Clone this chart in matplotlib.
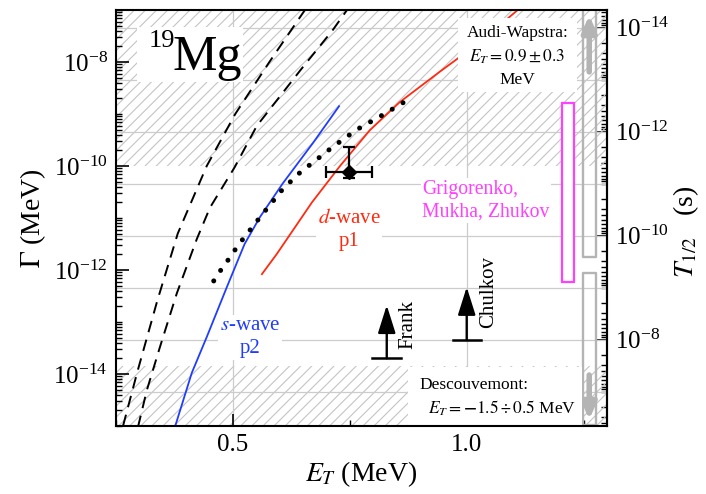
import numpy as np
import matplotlib
matplotlib.use('Agg')
import matplotlib.pyplot as plt
from matplotlib.ticker import FixedLocator, LogLocator, NullFormatter, LogFormatterSciNotation, MultipleLocator
from matplotlib.patches import Rectangle

plt.rcParams['font.family'] = ['Liberation Serif', 'DejaVu Serif']
plt.rcParams['mathtext.fontset'] = 'stix'
plt.rcParams['hatch.linewidth'] = 0.8
plt.rcParams['axes.unicode_minus'] = True

HBAR_LN2 = 4.562e-22  # MeV*s, Gamma = hbar*ln2 / T1/2

# ---------------- data ----------------
dash1_E = [0.265, 0.295, 0.338, 0.382, 0.444, 0.505, 0.578, 0.654]
dash1_logG = [-15.0, -13.98, -12.6, -11.3, -10.0, -9.0, -8.0, -7.0]
dash2_E = [0.297, 0.316, 0.344, 0.380, 0.423, 0.451, 0.504, 0.551, 0.645, 0.714, 0.744]
dash2_logG = [-15.02, -14.31, -13.48, -12.45, -11.4, -10.8, -10.02, -9.23, -8.15, -7.38, -7.0]
swave_E = [0.376, 0.412, 0.444, 0.487, 0.525, 0.558, 0.607, 0.671, 0.727]
swave_logG = [-15.02, -13.98, -13.29, -12.33, -11.5, -10.98, -10.33, -9.56, -8.85]
dwave_E = [0.562, 0.594, 0.669, 0.729, 0.793, 0.857, 0.942, 1.028, 1.109]
dwave_logG = [-12.08, -11.69, -10.7, -10.0, -9.31, -8.77, -8.19, -7.62, -7.0]
dotted_E = [0.459, 0.483, 0.497, 0.508, 0.562, 0.607, 0.643, 0.714, 0.765, 0.818, 0.870]
dotted_logG = [-12.21, -11.88, -11.73, -11.56, -10.94, -10.44, -10.13, -9.63, -9.3, -9.03, -8.75]

exp_E = [0.748]
exp_Eerr = [0.049]
exp_G = [7.8e-11]
exp_Glo = [5.9e-11]
exp_Ghi = [2.35e-10]

lim_names = ['Frank', 'Chulkov']
lim_E = [0.829, 1.0]
lim_base = [2.0e-14, 4.5e-14]
lim_tip = [2.1e-13, 4.7e-13]
lim_halfwidth = [0.031, 0.030]

excluded_top = (1e-10, 1e-7)
excluded_bottom = (1e-15, 1.4e-14)

grig_E = (1.203, 1.229)
grig_logG = (-12.23, -8.79)
gray_E = (1.248, 1.276)
gray_top_logG = (-11.75, -6.9)
gray_bot_logG = (-14.98, -12.06)
gray_arrow_E = 1.262
gray_arrow_top = (-8.19, -7.1)
gray_arrow_bot = (-14.02, -14.88)

T_ticks = [1e-14, 1e-12, 1e-10, 1e-8]
T_grid = [1e-14, 1e-13, 1e-12, 1e-11, 1e-10, 1e-9, 1e-8, 1e-7]
G_ticks = [1e-14, 1e-12, 1e-10, 1e-8]
E_ticks = [0.5, 1.0]

def p10(a):
    return 10.0 ** np.asarray(a)

# ---------------- figure ----------------
fig = plt.figure(figsize=(7.06, 4.94), dpi=100)
ax = fig.add_axes([116/706, 68/494, 491/706, 416/494])
ax.set_yscale('log')
ax.set_xlim(0.25, 1.3)
ax.set_ylim(1e-15, 1e-7)

hatch_gray = '#c4c4c4'
ax.axhspan(*excluded_top, facecolor='none', edgecolor=hatch_gray, hatch='///', linewidth=0, zorder=0.5)
ax.axhspan(*excluded_bottom, facecolor='none', edgecolor=hatch_gray, hatch='///', linewidth=0, zorder=0.5)

grid_c = '#cccccc'
for t in T_grid:
    ax.axhline(HBAR_LN2 / t, color=grid_c, lw=0.9, zorder=0.8)
for e in E_ticks:
    ax.axvline(e, color=grid_c, lw=0.9, zorder=0.8)

# curves
ax.plot(dash1_E, p10(dash1_logG), color='k', lw=1.4, ls=(0, (6, 4)), zorder=3)
ax.plot(dash2_E, p10(dash2_logG), color='k', lw=1.4, ls=(0, (6, 4)), zorder=3)
ax.plot(swave_E, p10(swave_logG), color='#1f3dff', lw=1.3, zorder=3)
ax.plot(dwave_E, p10(dwave_logG), color='#ff2a10', lw=1.3, zorder=3)
ax.plot(dotted_E, p10(dotted_logG), color='k', lw=3.6, ls=(0, (0.01, 2.5)),
        dash_capstyle='round', zorder=3)

# experimental point
ax.errorbar(exp_E, exp_G, xerr=exp_Eerr,
            yerr=[np.array(exp_G) - np.array(exp_Glo), np.array(exp_Ghi) - np.array(exp_G)],
            fmt='D', color='k', ms=7.5, elinewidth=1.6, capsize=4.5, capthick=1.6, zorder=4)

# lower-limit arrows
for name, e, b, tp, hw in zip(lim_names, lim_E, lim_base, lim_tip, lim_halfwidth):
    ax.annotate('', xy=(e, tp), xytext=(e, b),
                arrowprops=dict(arrowstyle='-|>,head_length=0.95,head_width=0.3', lw=1.7,
                                color='k', shrinkA=0, shrinkB=0, mutation_scale=18), zorder=4)
    ax.plot([e - hw, e + hw], [b, b], color='k', lw=1.8, zorder=4)

# magenta box
ax.add_patch(Rectangle((grig_E[0], p10(grig_logG[0])), grig_E[1] - grig_E[0],
                       p10(grig_logG[1]) - p10(grig_logG[0]),
                       facecolor='white', edgecolor='#ff40ff', lw=1.6, zorder=4))
# gray boxes
gcol = '#b4b4b4'
for lo, hi in (gray_top_logG, gray_bot_logG):
    ax.add_patch(Rectangle((gray_E[0], p10(lo)), gray_E[1] - gray_E[0], p10(hi) - p10(lo),
                           facecolor='none', edgecolor=gcol, lw=1.7, joinstyle='round', zorder=4))
for a0, a1 in (gray_arrow_top, gray_arrow_bot):
    ax.annotate('', xy=(gray_arrow_E, p10(a1)), xytext=(gray_arrow_E, p10(a0)),
                arrowprops=dict(arrowstyle='-|>,head_length=0.8,head_width=0.35', lw=4,
                                color=gcol, shrinkA=0, shrinkB=0, mutation_scale=12), zorder=4)

# text boxes (white)
def wbox(x0, y0, x1, y1):
    ax.add_patch(Rectangle((x0, y0), x1 - x0, y1 - y0, transform=ax.transAxes,
                           facecolor='white', edgecolor='none', zorder=5))

wbox(0.043, 0.827, 0.259, 0.959)
ax.text(0.067, 0.925, '19', transform=ax.transAxes, fontsize=19, ha='left', va='center', zorder=6)
ax.text(0.115, 0.885, 'Mg', transform=ax.transAxes, fontsize=36, ha='left', va='center', zorder=6)

wbox(0.697, 0.803, 0.939, 0.981)
ax.text(0.818, 0.945, 'Audi-Wapstra:', transform=ax.transAxes, fontsize=12.5, ha='center', va='center', zorder=6)
ax.text(0.818, 0.887, r'$E_T = 0.9 \pm 0.3$', transform=ax.transAxes, fontsize=12.5, ha='center', va='center', zorder=6)
ax.text(0.818, 0.832, 'MeV', transform=ax.transAxes, fontsize=12.5, ha='center', va='center', zorder=6)

wbox(0.595, 0.002, 0.949, 0.142)
ax.text(0.619, 0.099, 'Descouvemont:', transform=ax.transAxes, fontsize=12.5, ha='left', va='center', zorder=6)
ax.text(0.635, 0.043, r'$E_T = \mathbf{-}1.5 \div 0.5$ MeV', transform=ax.transAxes, fontsize=12.5,
        ha='left', va='center', zorder=6)

ax.text(0.623, 0.542, 'Grigorenko,\nMukha, Zhukov', transform=ax.transAxes, fontsize=14.2,
        color='#ff40ff', ha='left', va='center', linespacing=1.25, zorder=6,
        bbox=dict(facecolor='white', edgecolor='none', pad=1))
ax.text(0.273, 0.213, '$s$-wave\np2', transform=ax.transAxes, fontsize=15, color='#1f3dff',
        ha='center', va='center', linespacing=1.3, zorder=6,
        bbox=dict(facecolor='white', edgecolor='none', pad=1))
ax.text(0.475, 0.471, '$d$-wave\np1', transform=ax.transAxes, fontsize=15, color='#ff2a10',
        ha='center', va='center', linespacing=1.3, zorder=6,
        bbox=dict(facecolor='white', edgecolor='none', pad=1))
ax.text(0.595, 0.243, 'Frank', transform=ax.transAxes, fontsize=15, rotation=90,
        ha='center', va='center', zorder=6)
ax.text(0.758, 0.322, 'Chulkov', transform=ax.transAxes, fontsize=15, rotation=90,
        ha='center', va='center', zorder=6)

# axes styling
for s in ax.spines.values():
    s.set_linewidth(1.5)
    s.set_zorder(7)
ax.yaxis.set_major_locator(FixedLocator(G_ticks))
ax.yaxis.set_major_formatter(LogFormatterSciNotation())
ax.yaxis.set_minor_locator(LogLocator(base=10, subs=np.arange(1, 10), numticks=100))
ax.yaxis.set_minor_formatter(NullFormatter())
ax.xaxis.set_major_locator(FixedLocator(E_ticks))
ax.xaxis.set_major_formatter(plt.FuncFormatter(lambda v, p: f'{v:.1f}'))
ax.xaxis.set_minor_locator(MultipleLocator(0.25))
ax.tick_params(axis='both', which='major', direction='in', length=9, width=1.2, labelsize=18, pad=6)
ax.tick_params(axis='both', which='minor', direction='in', length=4.5, width=1.0)
ax.tick_params(axis='y', right=False)

ax.set_xlabel(r'$E_T$ (MeV)', fontsize=20, labelpad=2)
ax.set_ylabel(r'$\Gamma$ (MeV)', fontsize=20, labelpad=4)

sec = ax.secondary_yaxis('right', functions=(lambda g: HBAR_LN2 / g, lambda t: HBAR_LN2 / t))
sec.yaxis.set_major_locator(FixedLocator(T_ticks))
sec.yaxis.set_major_formatter(LogFormatterSciNotation())
sec.yaxis.set_minor_locator(LogLocator(base=10, subs=np.arange(1, 10), numticks=100))
sec.yaxis.set_minor_formatter(NullFormatter())
sec.tick_params(axis='y', which='major', direction='in', length=9, width=1.2, labelsize=18, pad=6)
sec.tick_params(axis='y', which='minor', direction='in', length=4.5, width=1.0)
sec.spines['right'].set_linewidth(1.5)

fig.text(0.972, 0.53, r'$T_{1/2}$   (s)', rotation=90, fontsize=20, ha='center', va='center')

fig.savefig('out.png', dpi=100)
